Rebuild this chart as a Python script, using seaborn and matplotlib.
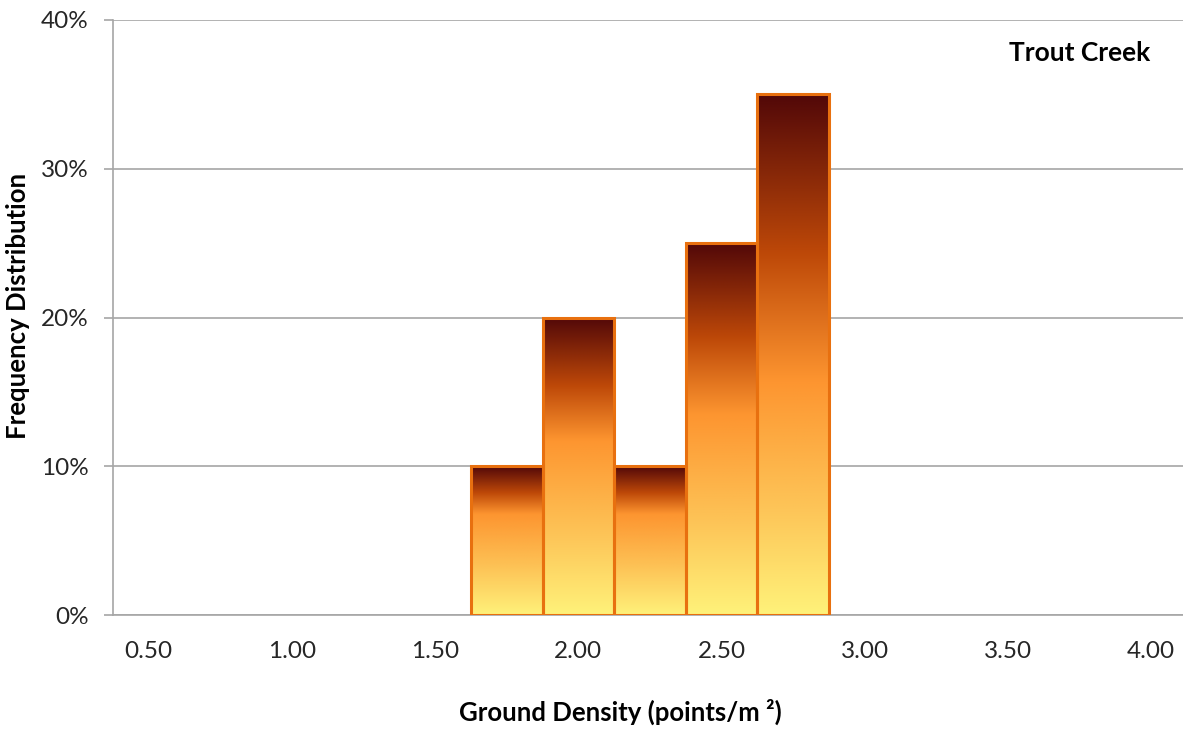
import numpy as np
import pandas as pd
import matplotlib
matplotlib.use("Agg")
import matplotlib.pyplot as plt
import seaborn as sns
from matplotlib.colors import LinearSegmentedColormap

# ---- data ----
categories = ["0.50", "0.75", "1.00", "1.25", "1.50", "1.75", "2.00", "2.25",
              "2.50", "2.75", "3.00", "3.25", "3.50", "3.75", "4.00"]
frequency = [0, 0, 0, 0, 0, 10, 20, 10, 25, 35, 0, 0, 0, 0, 0]
y_ticks = [0, 10, 20, 30, 40]
title_text = "Trout Creek"
x_label = "Ground Density (points/m \u00b2)"
y_label = "Frequency Distribution"

sns.set_theme(style="white")
plt.rcParams['font.family'] = ['Lato', 'DejaVu Sans']

df = pd.DataFrame({"cat": categories, "freq": frequency})

W, H = 1183, 729
fig = plt.figure(figsize=(W / 100, H / 100), dpi=100)
ax = fig.add_axes([113 / W, 1 - 615 / H, 1074 / W, (615 - 20) / H])

sns.barplot(data=df, x="cat", y="freq", order=categories, width=1.0,
            color="#fd9530", edgecolor="#e8700f", linewidth=2.2, ax=ax,
            zorder=3, saturation=1)

grey = "#a6a6a6"
ax.set_ylim(0, 40)
ax.set_xlim(-0.5, len(categories) - 0.5)
ax.yaxis.grid(True, color=grey, linewidth=1.2, zorder=0)
ax.set_axisbelow(True)

# gradient fill
for p in ax.patches:
    h = p.get_height()
    if h <= 0:
        p.set_visible(False)
        continue
    x0 = p.get_x()
    w = p.get_width()
    po = min(0.72, max(0.4, 0.77 - 0.0092 * h))
    cmap = LinearSegmentedColormap.from_list(
        "g", [(0.0, "#fff27a"), (po * 0.45, "#fdc558"), (po, "#fd9530"),
              (po + (1 - po) * 0.45, "#bd4808"), (1.0, "#520808")])
    grad = np.linspace(0, 1, 256).reshape(-1, 1)
    im = ax.imshow(grad, extent=[x0, x0 + w, 0, h], origin="lower",
                   aspect="auto", cmap=cmap, zorder=2.5, interpolation="bilinear")
    im.set_clip_path(p)
    p.set_facecolor("none")

ax.set_ylim(0, 40)
ax.set_xlim(-0.5, len(categories) - 0.5)

# ticks
ax.set_yticks(y_ticks)
ax.set_yticklabels([f"{v}%" for v in y_ticks])
major_pos = list(range(0, len(categories), 2))
ax.set_xticks(major_pos)
ax.set_xticklabels([categories[i] for i in major_pos])
ax.set_xticks(np.arange(-0.5, len(categories), 1.0), minor=True)
ax.tick_params(axis="x", which="major", length=0, pad=19, labelsize=17.5, colors="#262626")
ax.tick_params(axis="x", which="minor", length=8, width=1.2, color=grey, direction="out")
ax.tick_params(axis="y", which="major", length=6.5, width=1.2, color=grey, pad=11,
               labelsize=17.5, labelcolor="#262626", left=True)

for s in ["top", "right"]:
    ax.spines[s].set_visible(False)
for s in ["left", "bottom"]:
    ax.spines[s].set_color(grey)
    ax.spines[s].set_linewidth(1.2)

ax.set_xlabel(x_label, fontsize=18.5, fontweight="bold", color="black")
ax.set_ylabel(y_label, fontsize=18.5, fontweight="bold", color="black")
ax.xaxis.set_label_coords((620 - 113) / 1074, -(712 - 615) / 595)
ax.yaxis.set_label_coords(-(113 - 18) / 1074, (615 - 306) / 595)
ax.xaxis.label.set_va("center")
ax.yaxis.label.set_va("center")
ax.text((1150 - 113) / 1074, (615 - 53) / 595, title_text, transform=ax.transAxes,
        ha="right", va="center", fontsize=19, fontweight="bold", color="black")

fig.savefig("out.png", dpi=100)
